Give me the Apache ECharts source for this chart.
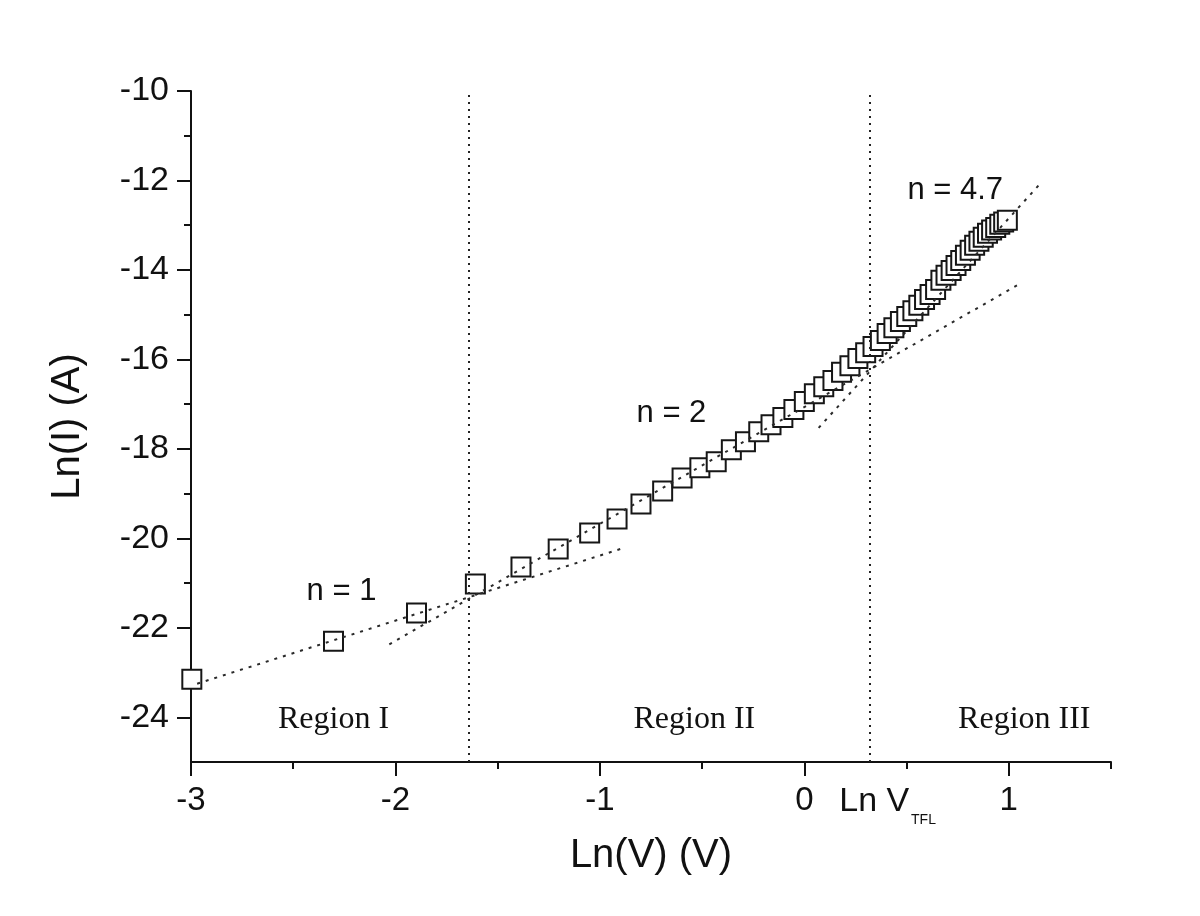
<!DOCTYPE html>
<html>
<head>
<meta charset="utf-8">
<script src="https://cdn.jsdelivr.net/npm/echarts@6/dist/echarts.min.js"></script>
<style>
html,body{margin:0;padding:0;background:#ffffff;}
#chart{width:1200px;height:916px;}
</style>
</head>
<body>
<div id="chart"></div>
<script>
// ---- data ----
const lnV = [-2.996, -2.303, -1.897, -1.609, -1.386, -1.204, -1.050, -0.916, -0.799, -0.693,
  -0.598, -0.511, -0.431, -0.357, -0.288, -0.223, -0.163, -0.105, -0.051, 0.000,
  0.049, 0.095, 0.140, 0.182, 0.223, 0.262, 0.300, 0.336, 0.372, 0.405,
  0.438, 0.470, 0.501, 0.531, 0.560, 0.588, 0.615, 0.642, 0.668, 0.693,
  0.718, 0.742, 0.765, 0.788, 0.811, 0.833, 0.854, 0.875, 0.896, 0.916,
  0.936, 0.956, 0.975, 0.993];
const lnI = [-23.15, -22.30, -21.67, -21.02, -20.64, -20.24, -19.88, -19.57, -19.23, -18.94,
  -18.65, -18.42, -18.29, -18.02, -17.84, -17.62, -17.46, -17.30, -17.12, -16.94,
  -16.77, -16.61, -16.47, -16.29, -16.14, -15.98, -15.85, -15.71, -15.58, -15.42,
  -15.29, -15.15, -15.04, -14.91, -14.79, -14.66, -14.55, -14.44, -14.23, -14.12,
  -14.01, -13.90, -13.79, -13.67, -13.56, -13.45, -13.36, -13.27, -13.18, -13.11,
  -13.05, -12.98, -12.93, -12.89];

// fit lines (endpoints)
const fitN1X = [-2.97, -0.88];
const fitN1Y = [-23.25, -20.21];
const fitN2X = [-2.03, 1.05];
const fitN2Y = [-22.37, -14.32];
const fitN47X = [0.07, 1.16];
const fitN47Y = [-17.53, -12.04];

// region boundaries
const regionBounds = [-1.64, 0.323];

// ticks
const xMajorTicks = [-3, -2, -1, 0, 1];
const xMinorTicks = [-2.5, -1.5, -0.5, 0.5, 1.5];
const yMajorTicks = [-24, -22, -20, -18, -16, -14, -12, -10];
const yMinorTicks = [-23, -21, -19, -17, -15, -13, -11];

// annotations (data coordinates of text centres)
const slopeNotes = [
  { x: -2.264, y: -21.18, text: 'n = 1' },
  { x: -0.650, y: -17.21, text: 'n = 2' },
  { x: 0.738, y: -12.22, text: 'n = 4.7' }
];
const regionNotes = [
  { x: -2.303, y: -24.05, text: 'Region I' },
  { x: -0.538, y: -24.05, text: 'Region II' },
  { x: 1.076, y: -24.05, text: 'Region III' }
];
const vtflMain = { x: 0.171, y: -25.88, text: 'Ln V' };
const vtflSub = { x: 0.522, y: -26.29, text: 'TFL' };

const SANS = '"Liberation Sans", Arial, sans-serif';
const SERIF = '"Liberation Serif", "Times New Roman", serif';
const INK = '#111111';

const chart = echarts.init(document.getElementById('chart'), null, { renderer: 'canvas' });

const toPairs = (xs, ys) => xs.map((x, i) => [x, ys[i]]);

const dotted = { color: '#2a2a2a', width: 2, type: [3, 6] };

const option = {
  backgroundColor: '#ffffff',
  animation: false,
  grid: { left: 191, right: 89, top: 91, bottom: 154, containLabel: false },
  xAxis: [
    {
      type: 'value', min: -3, max: 1.5, position: 'bottom',
      axisLine: { show: true, onZero: false, lineStyle: { color: INK, width: 2 } },
      axisTick: { show: true, customValues: xMajorTicks, length: 14, lineStyle: { color: INK, width: 2 } },
      axisLabel: { show: true, customValues: xMajorTicks, fontSize: 33, fontFamily: SANS, color: INK, margin: 22 },
      splitLine: { show: false },
      name: 'Ln(V) (V)', nameLocation: 'middle', nameGap: 74,
      nameTextStyle: { fontSize: 40, fontFamily: SANS, color: INK }
    },
    {
      type: 'value', min: -3, max: 1.5, position: 'bottom',
      axisLine: { show: false, onZero: false },
      axisTick: { show: true, customValues: xMinorTicks, length: 7, lineStyle: { color: INK, width: 2 } },
      axisLabel: { show: false },
      splitLine: { show: false }
    }
  ],
  yAxis: [
    {
      type: 'value', min: -25, max: -10, position: 'left',
      axisLine: { show: true, onZero: false, lineStyle: { color: INK, width: 2 } },
      axisTick: { show: true, customValues: yMajorTicks, length: 14, lineStyle: { color: INK, width: 2 } },
      axisLabel: { show: true, customValues: yMajorTicks, fontSize: 34, fontFamily: SANS, color: INK, margin: 22 },
      splitLine: { show: false },
      name: 'Ln(I) (A)', nameLocation: 'middle', nameGap: 103, nameRotate: 90,
      nameTextStyle: { fontSize: 40, fontFamily: SANS, color: INK }
    },
    {
      type: 'value', min: -25, max: -10, position: 'left',
      axisLine: { show: false, onZero: false },
      axisTick: { show: true, customValues: yMinorTicks, length: 7, lineStyle: { color: INK, width: 2 } },
      axisLabel: { show: false },
      splitLine: { show: false }
    }
  ],
  series: [
    {
      name: 'data', type: 'scatter', xAxisIndex: 0, yAxisIndex: 0,
      data: toPairs(lnV, lnI),
      symbol: 'rect', symbolSize: 19, clip: false,
      itemStyle: { color: '#ffffff', borderColor: '#161616', borderWidth: 2, opacity: 1 },
      z: 2
    },
    {
      name: 'fit n=1', type: 'line', data: toPairs(fitN1X, fitN1Y),
      symbol: 'none', lineStyle: dotted, z: 4, silent: true
    },
    {
      name: 'fit n=2', type: 'line', data: toPairs(fitN2X, fitN2Y),
      symbol: 'none', lineStyle: dotted, z: 4, silent: true
    },
    {
      name: 'fit n=4.7', type: 'line', data: toPairs(fitN47X, fitN47Y),
      symbol: 'none', lineStyle: dotted, z: 4, silent: true,
      markLine: {
        silent: true, symbol: ['none', 'none'], label: { show: false },
        lineStyle: { color: '#222', width: 2, type: [2, 5] },
        data: regionBounds.map(v => ({ xAxis: v }))
      }
    }
  ]
};

chart.setOption(option);

// annotation texts placed through the chart's own scales
function px(d) { return chart.convertToPixel({ xAxisIndex: 0, yAxisIndex: 0 }, [d.x, d.y]); }
const elements = [];
slopeNotes.forEach(d => {
  const p = px(d);
  elements.push({ type: 'text', x: p[0], y: p[1], z: 100, silent: true,
    style: { text: d.text, fill: INK, font: '31px ' + SANS, align: 'center', verticalAlign: 'middle' } });
});
regionNotes.forEach(d => {
  const p = px(d);
  elements.push({ type: 'text', x: p[0], y: p[1], z: 100, silent: true,
    style: { text: d.text, fill: INK, font: '32px ' + SERIF, align: 'center', verticalAlign: 'middle' } });
});
{
  const p = px(vtflMain);
  elements.push({ type: 'text', x: p[0], y: p[1], z: 100, silent: true,
    style: { text: vtflMain.text, fill: INK, font: '34px ' + SANS, align: 'left', verticalAlign: 'middle' } });
  const q = px(vtflSub);
  elements.push({ type: 'text', x: q[0], y: q[1], z: 100, silent: true,
    style: { text: vtflSub.text, fill: INK, font: '14px ' + SANS, align: 'left', verticalAlign: 'middle' } });
}
chart.setOption({ graphic: { elements: elements } });
</script>
</body>
</html>
